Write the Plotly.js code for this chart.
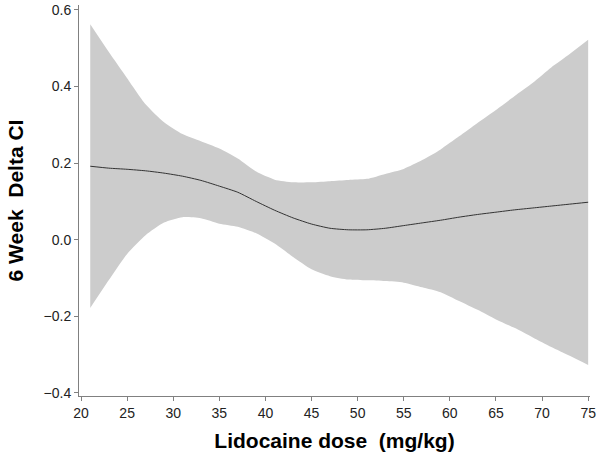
<!DOCTYPE html>
<html>
<head>
<meta charset="utf-8">
<script src="https://cdn.plot.ly/plotly-3.0.1.min.js"></script>
<style>html,body{margin:0;padding:0;background:#fff;}#chart{width:601px;height:462px;}</style>
</head>
<body>
<div id="chart"></div>
<script>
var dose = [21,23,25,27,29,31,33,35,37,39,41,43,45,47,49,51,53,55,57,59,61,63,65,67,69,71,73,75];
var upperCI = [0.563,0.491,0.422,0.354,0.307,0.276,0.257,0.238,0.212,0.178,0.157,0.150,0.150,0.153,0.156,0.159,0.172,0.185,0.208,0.236,0.270,0.305,0.339,0.375,0.410,0.450,0.485,0.522];
var lowerCI = [-0.178,-0.106,-0.037,0.012,0.045,0.059,0.056,0.042,0.034,0.017,-0.010,-0.045,-0.077,-0.095,-0.104,-0.106,-0.108,-0.112,-0.124,-0.137,-0.160,-0.183,-0.208,-0.230,-0.255,-0.280,-0.303,-0.327];
var estimate = [0.192,0.187,0.184,0.180,0.174,0.166,0.155,0.140,0.124,0.100,0.077,0.057,0.041,0.030,0.026,0.026,0.030,0.037,0.044,0.051,0.059,0.066,0.072,0.078,0.083,0.088,0.093,0.098];
var xTicks = [20,25,30,35,40,45,50,55,60,65,70,75];
var yTicks = [-0.4,-0.2,0.0,0.2,0.4,0.6];

var traces = [
  {x: dose, y: lowerCI, type: 'scatter', mode: 'lines', line: {width: 0, shape: 'spline', smoothing: 0.6}, hoverinfo: 'skip', showlegend: false},
  {x: dose, y: upperCI, type: 'scatter', mode: 'lines', fill: 'tonexty', fillcolor: '#cccccc', line: {width: 0, shape: 'spline', smoothing: 0.6}, hoverinfo: 'skip', showlegend: false},
  {x: dose, y: estimate, type: 'scatter', mode: 'lines', line: {color: '#333333', width: 1, shape: 'spline', smoothing: 0.6}, showlegend: false}
];
var fontFam = '"Liberation Sans", Arial, Helvetica, sans-serif';
var layout = {
  width: 601, height: 462,
  margin: {l: 79, r: 11, t: 5, b: 66},
  paper_bgcolor: '#ffffff', plot_bgcolor: '#ffffff',
  font: {family: fontFam, color: '#222222', size: 14},
  xaxis: {
    range: [19.78, 75.2], tickvals: xTicks, ticks: 'outside', ticklen: 4, tickcolor: '#808080',
    showline: true, linecolor: '#808080', linewidth: 1, showgrid: false, zeroline: false,
    tickfont: {size: 14, color: '#222222'},
    title: {text: '<b>Lidocaine dose  (mg/kg)</b>', font: {size: 21, color: '#000000'}, standoff: 13}
  },
  yaxis: {
    range: [-0.408, 0.613], tickvals: yTicks, tickformat: '.1f', ticks: 'outside', ticklen: 4, tickcolor: '#808080',
    showline: true, linecolor: '#808080', linewidth: 1, showgrid: false, zeroline: false,
    tickfont: {size: 14, color: '#222222'},
    title: {text: '<b>6 Week  Delta CI</b>', font: {size: 21, color: '#000000'}, standoff: 14}
  }
};
Plotly.newPlot('chart', traces, layout, {staticPlot: true, displayModeBar: false});
</script>
</body>
</html>
